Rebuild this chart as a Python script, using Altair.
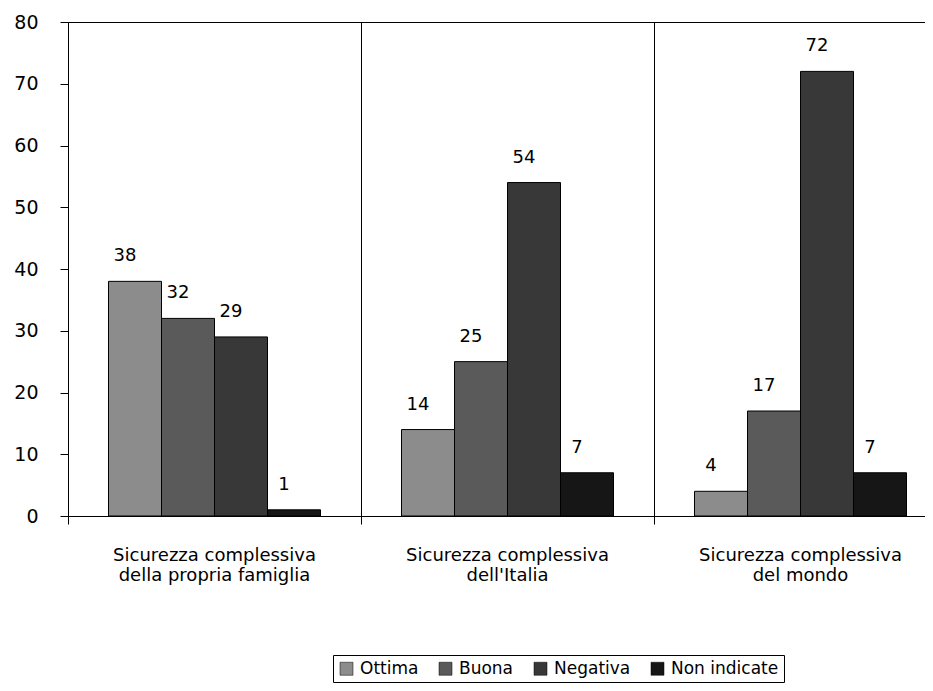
import altair as alt
import pandas as pd

categories = [
    "Sicurezza complessiva\ndella propria famiglia",
    "Sicurezza complessiva\ndell'Italia",
    "Sicurezza complessiva\ndel mondo",
]
series = ["Ottima", "Buona", "Negativa", "Non indicate"]
values = [
    [38, 32, 29, 1],
    [14, 25, 54, 7],
    [4, 17, 72, 7],
]
colors = ["#8c8c8c", "#5a5a5a", "#383838", "#161616"]
y_ticks = [0, 10, 20, 30, 40, 50, 60, 70, 80]

rows = []
for ci, c in enumerate(categories):
    for si, s in enumerate(series):
        rows.append({"cat": c, "series": s, "value": values[ci][si]})
df = pd.DataFrame(rows)

FONT = "DejaVu Sans"
PAD_IN = 81 / 293

xscale = alt.Scale(domain=categories, range=[0, 879], paddingInner=PAD_IN, paddingOuter=PAD_IN / 2)
yscale = alt.Scale(domain=[0, 80], nice=False)

bars = alt.Chart(df).mark_bar(stroke="black", strokeWidth=1).encode(
    x=alt.X("cat:N", sort=categories, scale=xscale,
            axis=alt.Axis(orient="bottom", bandPosition=-(40.5 / 212), grid=True,
                          gridColor="black", gridOpacity=1, gridWidth=1,
                          labels=False, ticks=True, tickSize=8, tickColor="black",
                          domain=True, domainColor="black", title=None)),
    xOffset=alt.XOffset("series:N", sort=series, scale=alt.Scale(paddingInner=0, paddingOuter=0)),
    y=alt.Y("value:Q", scale=yscale,
            axis=alt.Axis(values=y_ticks, title=None, grid=True, gridColor="black",
                          gridOpacity=alt.condition("datum.value == 80", alt.value(1), alt.value(0)),
                          gridWidth=1, tickSize=8, tickColor="black",
                          domainColor="black", labelFontSize=19, labelColor="black",
                          labelPadding=22, labelFont=FONT)),
    color=alt.Color("series:N", sort=series,
                    scale=alt.Scale(domain=series, range=colors),
                    legend=alt.Legend(title=None, orient="none", direction="horizontal",
                                      legendX=265, legendY=633,
                                      strokeColor="black", padding=5,
                                      symbolType="square", symbolSize=169,
                                      symbolStrokeColor="black", symbolStrokeWidth=0.5,
                                      labelFontSize=17, labelFont=FONT, labelColor="black",
                                      columnPadding=18, labelOffset=5)),
)

labels = alt.Chart(df).mark_text(baseline="middle", align="center", dy=-25, dx=-10,
                                 fontSize=18, font=FONT, color="black").encode(
    x=alt.X("cat:N", sort=categories, scale=xscale,
            axis=alt.Axis(orient="bottom", bandPosition=0.5, ticks=False, domain=False,
                          grid=False, labelExpr="split(datum.label, '\\n')",
                          labelAngle=0, labelFontSize=18, labelFont=FONT, labelLimit=0,
                          labelColor="black", labelPadding=39, labelLineHeight=20,
                          labelBaseline="middle", title=None)),
    xOffset=alt.XOffset("series:N", sort=series),
    y=alt.Y("value:Q", scale=yscale),
    text=alt.Text("value:Q"),
)

chart = alt.layer(bars, labels).resolve_axis(x="independent").properties(
    width=857, height=494,
    autosize=alt.AutoSizeParams(type="none"),
    padding={"left": 60, "top": 14, "right": 0, "bottom": 167},
).configure_view(stroke=None)

chart.save("out.html", embed_options={"renderer": "svg", "actions": False})
